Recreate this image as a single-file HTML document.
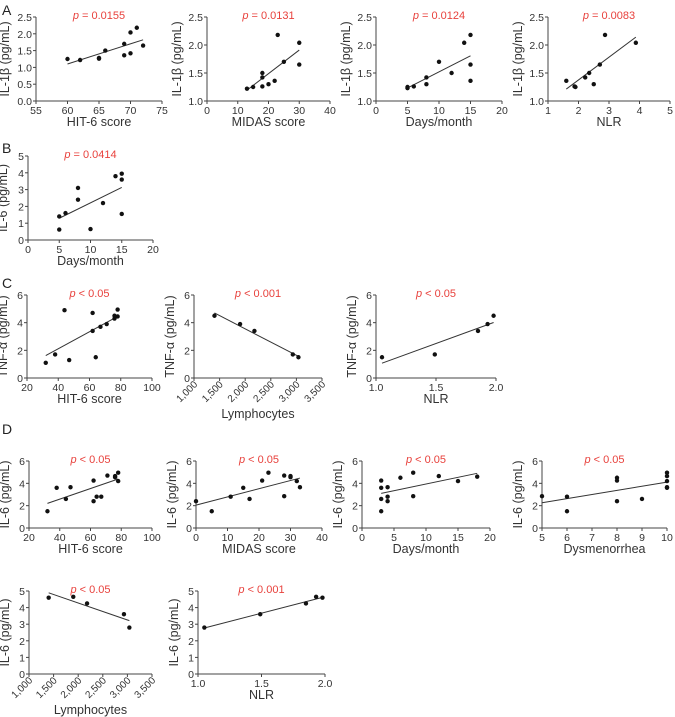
<!DOCTYPE html>
<html><head><meta charset="utf-8"><style>
html,body{margin:0;padding:0;background:#fff;}
svg{display:block;font-family:"Liberation Sans",sans-serif;}
</style></head><body>
<svg id="fig" width="675" height="717" viewBox="0 0 675 717" xmlns="http://www.w3.org/2000/svg"></svg>
<script>
// ---- data arrays ----
const a1X=[60,62,65,65,66,69,69,70,70,71,72];
const a1Y=[1.25,1.22,1.28,1.26,1.5,1.7,1.36,2.04,1.42,2.18,1.65];
const a2X=[13,15,18,18,18,20,22,23,25,30,30];
const a2Y=[1.22,1.25,1.5,1.42,1.26,1.3,1.36,2.18,1.7,2.04,1.65];
const a3X=[5,5,6,8,8,10,12,14,15,15,15];
const a3Y=[1.25,1.23,1.26,1.42,1.3,1.7,1.5,2.04,2.18,1.65,1.36];
const a4X=[1.6,1.87,1.9,2.22,2.35,2.5,2.7,2.87,3.88];
const a4Y=[1.36,1.26,1.25,1.42,1.5,1.3,1.65,2.18,2.04];
const bX=[5,5,6,8,8,10,12,14,15,15,15];
const bY=[1.4,0.62,1.6,3.1,2.4,0.65,2.2,3.8,3.95,3.6,1.55];
const c1X=[32,38,44,47,62,62,64,67,71,76,76,78,78];
const c1Y=[1.1,1.7,4.9,1.3,4.7,3.4,1.5,3.7,3.9,4.3,4.5,4.95,4.45];
const c2X=[1400,1900,2180,2930,3040];
const c2Y=[4.5,3.9,3.4,1.7,1.5];
const c3X=[1.05,1.49,1.85,1.93,1.98];
const c3Y=[1.5,1.7,3.4,3.9,4.5];
const d1X=[32,38,44,47,62,62,64,67,71,76,76,78,78];
const d1Y=[1.5,3.6,2.6,3.65,4.25,2.4,2.8,2.8,4.7,4.55,4.65,4.95,4.2];
const d2X=[0,5,11,15,17,21,23,28,28,30,30,32,33];
const d2Y=[2.4,1.5,2.8,3.6,2.6,4.25,4.95,4.7,2.85,4.55,4.65,4.2,3.65];
const d3X=[3,3,3,3,4,4,4,6,8,8,12,15,18];
const d3Y=[4.25,3.6,2.6,1.5,3.65,2.8,2.4,4.5,4.95,2.85,4.65,4.2,4.6];
const d4X=[5,6,6,8,8,8,9,10,10,10,10,10];
const d4Y=[2.85,2.8,1.5,4.5,4.25,2.4,2.6,4.95,4.65,4.2,3.65,3.6];
const d5X=[1400,1900,2180,2930,3040];
const d5Y=[4.6,4.65,4.25,3.6,2.8];
const d6X=[1.05,1.49,1.85,1.93,1.98];
const d6Y=[2.8,3.6,4.25,4.65,4.6];
const pLabels=["p = 0.0155","p = 0.0131","p = 0.0124","p = 0.0083","p = 0.0414","p < 0.05","p < 0.001","p < 0.05","p < 0.05","p < 0.05","p < 0.05","p < 0.05","p < 0.05","p < 0.001"];
const lymTicks=[1000,1500,2000,2500,3000,3500];

const NS="http://www.w3.org/2000/svg";
const svg=document.getElementById('fig');
function mk(tag,attrs,parent){const e=document.createElementNS(NS,tag);for(const k in attrs)e.setAttribute(k,attrs[k]);(parent||svg).appendChild(e);return e;}
function range(a,b,s){const r=[];for(let v=a;v<=b+1e-9;v+=s)r.push(+v.toFixed(6));return r;}
function fmtComma(v){return v.toLocaleString('en-US');}

const panels=[
 {id:'a-hit6',xs:a1X,ys:a1Y,p:0,px:[36,162],py:[101,17],dx:[55,75],dy:[0,2.5],xt:range(55,75,5),yt:range(0,2.5,0.5),yf:v=>v.toFixed(1),xf:v=>String(v),xl:'HIT-6 score',yl:'IL-1β (pg/mL)',yo:27},
 {id:'a-midas',xs:a2X,ys:a2Y,p:1,px:[207,330],py:[101,17],dx:[0,40],dy:[1,2.5],xt:range(0,40,10),yt:range(1,2.5,0.5),yf:v=>v.toFixed(1),xf:v=>String(v),xl:'MIDAS score',yl:'IL-1β (pg/mL)',yo:26},
 {id:'a-days',xs:a3X,ys:a3Y,p:2,px:[376,502],py:[101,17],dx:[0,20],dy:[1,2.5],xt:range(0,20,5),yt:range(1,2.5,0.5),yf:v=>v.toFixed(1),xf:v=>String(v),xl:'Days/month',yl:'IL-1β (pg/mL)',yo:26},
 {id:'a-nlr',xs:a4X,ys:a4Y,p:3,px:[548,670],py:[101,17],dx:[1,5],dy:[1,2.5],xt:range(1,5,1),yt:range(1,2.5,0.5),yf:v=>v.toFixed(1),xf:v=>String(v),xl:'NLR',yl:'IL-1β (pg/mL)',yo:26},
 {id:'b-days',xs:bX,ys:bY,p:4,px:[28,153],py:[240,156],dx:[0,20],dy:[0,5],xt:range(0,20,5),yt:range(0,5,1),yf:v=>String(v),xf:v=>String(v),xl:'Days/month',yl:'IL-6 (pg/mL)',yo:21},
 {id:'c-hit6',xs:c1X,ys:c1Y,p:5,px:[27,152],py:[378,295],dx:[20,100],dy:[0,6],xt:range(20,100,20),yt:range(0,6,2),yf:v=>String(v),xf:v=>String(v),xl:'HIT-6 score',yl:'TNF-α (pg/mL)',yo:20},
 {id:'c-lymph',xs:c2X,ys:c2Y,p:6,px:[194,322],py:[378,295],dx:[1000,3500],dy:[0,6],xt:lymTicks,yt:range(0,6,2),yf:v=>String(v),xf:fmtComma,rot:true,xl:'Lymphocytes',yl:'TNF-α (pg/mL)',yo:20},
 {id:'c-nlr',xs:c3X,ys:c3Y,p:7,px:[376,496],py:[378,295],dx:[1,2],dy:[0,6],xt:range(1,2,0.5),yt:range(0,6,2),yf:v=>String(v),xf:v=>v.toFixed(1),xl:'NLR',yl:'TNF-α (pg/mL)',yo:20},
 {id:'d-hit6',xs:d1X,ys:d1Y,p:8,px:[29,152],py:[528,461],dx:[20,100],dy:[0,6],xt:range(20,100,20),yt:range(0,6,2),yf:v=>String(v),xf:v=>String(v),xl:'HIT-6 score',yl:'IL-6 (pg/mL)',yo:20},
 {id:'d-midas',xs:d2X,ys:d2Y,p:9,px:[196,322],py:[528,461],dx:[0,40],dy:[0,6],xt:range(0,40,10),yt:range(0,6,2),yf:v=>String(v),xf:v=>String(v),xl:'MIDAS score',yl:'IL-6 (pg/mL)',yo:20},
 {id:'d-days',xs:d3X,ys:d3Y,p:10,px:[362,490],py:[528,461],dx:[0,20],dy:[0,6],xt:range(0,20,5),yt:range(0,6,2),yf:v=>String(v),xf:v=>String(v),xl:'Days/month',yl:'IL-6 (pg/mL)',yo:20},
 {id:'d-dysmen',xs:d4X,ys:d4Y,p:11,px:[542,667],py:[528,461],dx:[5,10],dy:[0,6],xt:range(5,10,1),yt:range(0,6,2),yf:v=>String(v),xf:v=>String(v),xl:'Dysmenorrhea',yl:'IL-6 (pg/mL)',yo:20},
 {id:'d-lymph',xs:d5X,ys:d5Y,p:12,px:[29,152],py:[674,591],dx:[1000,3500],dy:[0,5],xt:lymTicks,yt:range(0,5,1),yf:v=>String(v),xf:fmtComma,rot:true,xl:'Lymphocytes',yl:'IL-6 (pg/mL)',yo:20},
 {id:'d-nlr',xs:d6X,ys:d6Y,p:13,px:[198,325],py:[674,591],dx:[1,2],dy:[0,5],xt:range(1,2,0.5),yt:range(0,5,1),yf:v=>String(v),xf:v=>v.toFixed(1),xl:'NLR',yl:'IL-6 (pg/mL)',yo:20}
];

function drawPanel(P){
 const g=mk('g',{});
 
 
 const sx=v=>P.px[0]+(v-P.dx[0])/(P.dx[1]-P.dx[0])*(P.px[1]-P.px[0]);
 const sy=v=>P.py[0]+(v-P.dy[0])/(P.dy[1]-P.dy[0])*(P.py[1]-P.py[0]);
 const ax=mk('path',{d:`M${P.px[0]},${P.py[1]}V${P.py[0]}H${P.px[1]}`,fill:'none',stroke:'#444','stroke-width':1},g);
 
 
 P.yt.forEach(v=>{
  const y=sy(v);
  mk('line',{x1:P.px[0]-3,x2:P.px[0],y1:y,y2:y,stroke:'#444'},g);
  const t=mk('text',{x:P.px[0]-4,y:y+4,'font-size':10.5,fill:'#333','text-anchor':'end'},g);
  t.textContent=P.yf(v);
  
  
 });
 P.xt.forEach(v=>{
  const x=sx(v);
  mk('line',{x1:x,x2:x,y1:P.py[0],y2:P.py[0]+3,stroke:'#444'},g);
  let t;
  if(P.rot){
   t=mk('text',{x:x+4,y:P.py[0]+7,'font-size':10,fill:'#333','text-anchor':'end',transform:`rotate(-45 ${x+4} ${P.py[0]+7})`},g);
  } else {
   t=mk('text',{x:x,y:P.py[0]+13,'font-size':10.5,fill:'#333','text-anchor':'middle'},g);
  }
  t.textContent=P.xf(v);
  
  
 });
 const xt=mk('text',{x:(P.px[0]+P.px[1])/2,y:P.py[0]+(P.rot?40:25),'font-size':12.5,fill:'#333','text-anchor':'middle'},g);
 xt.textContent=P.xl;
 
 
 const cy=(P.py[0]+P.py[1])/2, cx=P.px[0]-P.yo;
 const yt=mk('text',{x:cx,y:cy,'font-size':12.5,fill:'#333','text-anchor':'middle',transform:`rotate(-90 ${cx} ${cy})`},g);
 yt.textContent=P.yl;
 
 
 const pt=mk('text',{x:(P.px[0]+P.px[1])/2,y:P.py[1]+2,'font-size':11,fill:'#e8413c','text-anchor':'middle'},g);
 const parts=pLabels[P.p].split(' ');
 const ts=mk('tspan',{'font-style':'italic'},pt); ts.textContent=parts[0];
 const ts2=mk('tspan',{},pt); ts2.textContent=' '+parts.slice(1).join(' ');
 
 
 const n=P.xs.length; let mx=0,my=0; for(let i=0;i<n;i++){mx+=P.xs[i];my+=P.ys[i];} mx/=n;my/=n;
 let sxy=0,sxx=0; for(let i=0;i<n;i++){sxy+=(P.xs[i]-mx)*(P.ys[i]-my);sxx+=(P.xs[i]-mx)**2;}
 const b=sxy/sxx,a=my-b*mx; const xmin=Math.min(...P.xs),xmax=Math.max(...P.xs);
 const ln=mk('line',{x1:sx(xmin),y1:sy(a+b*xmin),x2:sx(xmax),y2:sy(a+b*xmax),stroke:'#333','stroke-width':1},g);
 
 
 for(let i=0;i<n;i++){
  const c=mk('circle',{cx:sx(P.xs[i]),cy:sy(P.ys[i]),r:2.2,fill:'#111'},g);
  
  
 }
}
panels.forEach(drawPanel);
[['A',10],['B',148],['C',283],['D',429]].forEach(([L,y])=>{
 const t=mk('text',{x:2,y:y+5,'font-size':14,fill:'#222'});
 t.textContent=L;
 
 
});
</script>
</body></html>
